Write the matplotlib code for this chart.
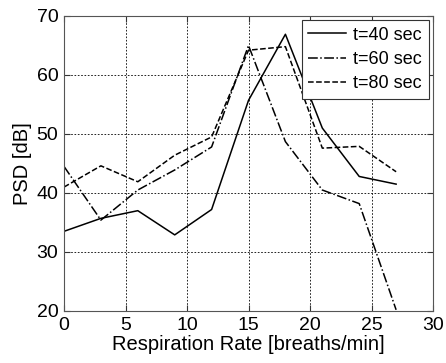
import matplotlib
matplotlib.use("Agg")
import matplotlib.pyplot as plt

plt.rcParams['font.family'] = ['Liberation Sans', 'DejaVu Sans']

rate = [0, 3, 6, 9, 12, 15, 18, 21, 24, 27]
psd_40 = [33.5, 35.7, 37.0, 32.9, 37.2, 55.7, 66.9, 51.0, 42.8, 41.5]
psd_60 = [44.5, 35.4, 40.5, 43.9, 47.8, 65.0, 48.7, 40.5, 38.2, 20.2]
psd_80 = [41.0, 44.6, 41.9, 46.4, 49.5, 64.2, 64.8, 47.6, 47.9, 43.6]
labels = ['t=40 sec', 't=60 sec', 't=80 sec']

fig = plt.figure(figsize=(4.46, 3.63), dpi=100)
ax = fig.add_axes([0.1435, 0.1433, 0.8274, 0.8127])

ax.plot(rate, psd_40, '-', color='black', lw=1.1, label=labels[0])
ax.plot(rate, psd_60, '-.', color='black', lw=1.1, label=labels[1])
ax.plot(rate, psd_80, '--', color='black', lw=1.1, label=labels[2])

ax.set_xlim(0, 30)
ax.set_ylim(20, 70)
ax.set_xticks(range(0, 31, 5))
ax.set_yticks(range(20, 71, 10))
ax.tick_params(direction='in', labelsize=14, length=4, pad=4, top=True, right=True, color='#333333')
ax.grid(True, linestyle=(0, (2, 2)), color='black', linewidth=0.6)
for s in ax.spines.values():
    s.set_color('#555555')
    s.set_linewidth(0.8)

ax.set_xlabel('Respiration Rate [breaths/min]', fontsize=14.5, labelpad=1)
ax.set_ylabel('PSD [dB]', fontsize=14.5, labelpad=3)

leg = ax.legend(loc='upper right', fontsize=13, handlelength=2.1, handletextpad=0.4,
                borderaxespad=0.25, borderpad=0.35, labelspacing=0.4, fancybox=False,
                framealpha=1, edgecolor='#333333')
leg.get_frame().set_linewidth(0.8)

fig.savefig('out.png', dpi=100)
